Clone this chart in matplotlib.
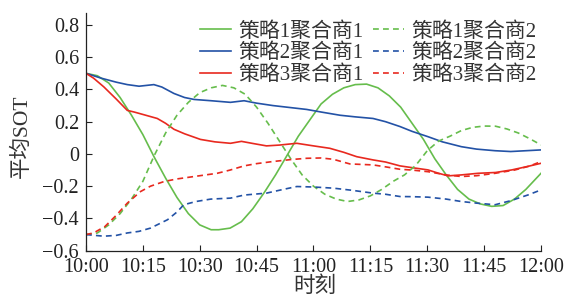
import matplotlib
matplotlib.use("Agg")
import matplotlib.pyplot as plt

plt.rcParams['font.family'] = ['Liberation Serif', 'Noto Sans CJK SC']
plt.rcParams['axes.unicode_minus'] = True

# minutes after 10:00 and average SOT
t_g1 = [0, 3, 6, 9, 12, 15, 18, 21, 24, 27, 30, 33, 35, 38, 41, 44, 47, 50, 53, 56, 59, 62, 65, 68, 71, 74,
        77, 80, 83, 86, 89, 92, 95, 98, 101, 104, 107, 110, 113, 116, 118, 120]
sot_g1 = [0.50, 0.485, 0.44, 0.35, 0.24, 0.12, -0.02, -0.15, -0.27, -0.37, -0.44, -0.47, -0.47, -0.46, -0.42,
          -0.34, -0.24, -0.13, -0.01, 0.11, 0.21, 0.31, 0.37, 0.41, 0.43, 0.433, 0.41, 0.36, 0.29, 0.19, 0.09,
          -0.03, -0.13, -0.22, -0.28, -0.31, -0.325, -0.32, -0.28, -0.22, -0.17, -0.12]

t_g2 = [0, 3, 6, 9, 12, 15, 18, 21, 24, 27, 30, 33, 36, 39, 42, 45, 48, 51, 54, 57, 60, 63, 66, 69, 72, 75,
        78, 81, 84, 87, 90, 93, 96, 99, 102, 105, 108, 111, 114, 117, 120]
sot_g2 = [-0.50, -0.49, -0.44, -0.37, -0.28, -0.17, -0.01, 0.13, 0.24, 0.32, 0.38, 0.41, 0.425, 0.41, 0.37,
          0.29, 0.19, 0.08, -0.03, -0.13, -0.20, -0.25, -0.28, -0.295, -0.285, -0.26, -0.22, -0.17, -0.13,
          -0.07, 0.02, 0.08, 0.11, 0.145, 0.165, 0.173, 0.172, 0.155, 0.13, 0.095, 0.056]

t_b1 = [0, 4, 8, 10.9, 14, 17.9, 20, 23.2, 26, 28.5, 33, 38.1, 41.7, 45, 49.3, 53, 58.2, 62, 67, 71, 75.7,
        79, 82.8, 86, 90.2, 94, 99, 103, 107.9, 112, 116, 120]
sot_b1 = [0.50, 0.47, 0.445, 0.43, 0.42, 0.43, 0.415, 0.375, 0.35, 0.338, 0.33, 0.32, 0.33, 0.315, 0.30, 0.29,
          0.276, 0.26, 0.24, 0.23, 0.22, 0.20, 0.17, 0.14, 0.107, 0.075, 0.045, 0.03, 0.02, 0.015, 0.02, 0.025]

t_b2 = [0, 4.7, 8, 10.9, 14, 17, 21.5, 24, 25.8, 29, 32.9, 38.1, 41.7, 47.6, 52, 55.6, 60, 65.2, 70, 75.7,
        79, 82.8, 86, 90.2, 95, 99, 103, 107.9, 112, 116.6, 120]
sot_b2 = [-0.50, -0.51, -0.505, -0.49, -0.48, -0.46, -0.408, -0.36, -0.315, -0.295, -0.28, -0.274, -0.255,
          -0.243, -0.22, -0.202, -0.205, -0.212, -0.225, -0.243, -0.25, -0.264, -0.265, -0.268, -0.28, -0.295,
          -0.305, -0.315, -0.29, -0.254, -0.223]

t_r1 = [0, 2, 4.7, 8, 10.9, 12.7, 15, 18.8, 21, 23.2, 26, 30.2, 34, 38.1, 41, 44, 47.6, 51, 55.6, 60, 64.3,
        68, 71.4, 75.7, 79, 82.8, 86, 90.2, 93, 95.5, 99, 103.4, 108, 112.3, 116, 120]
sot_r1 = [0.50, 0.47, 0.416, 0.34, 0.27, 0.26, 0.245, 0.22, 0.19, 0.153, 0.125, 0.09, 0.075, 0.066, 0.078,
          0.065, 0.05, 0.055, 0.066, 0.05, 0.035, 0.01, -0.017, -0.037, -0.05, -0.074, -0.085, -0.099, -0.12,
          -0.136, -0.13, -0.12, -0.115, -0.099, -0.08, -0.058]

t_r2 = [0, 2, 5, 8, 10.9, 14.4, 17, 20.6, 24, 28.5, 34.6, 38, 41.7, 45, 49.3, 54, 58.2, 62, 65.2, 69.6, 75.7,
        79, 82.8, 86, 90.2, 95, 99, 103, 107.9, 113, 117, 120]
sot_r2 = [-0.50, -0.49, -0.45, -0.38, -0.305, -0.233, -0.20, -0.171, -0.155, -0.14, -0.12, -0.10, -0.074,
          -0.06, -0.047, -0.035, -0.027, -0.025, -0.033, -0.062, -0.068, -0.08, -0.095, -0.10, -0.11, -0.13,
          -0.14, -0.135, -0.12, -0.10, -0.075, -0.047]

tick_pos = [0, 15, 30, 45, 60, 75, 90, 105, 120]
tick_labels = ['10:00', '10:15', '10:30', '10:45', '11:00', '11:15', '11:30', '11:45', '12:00']

GREEN = '#66bd4c'
BLUE = '#2352a6'
RED = '#e8291f'

fig = plt.figure(figsize=(5.69, 2.97), dpi=100)
ax = fig.add_axes([0.1511, 0.1559, 0.7997, 0.8003])

lw = 1.2
dash = (0, (3.5, 2.5))
ax.plot(t_g1, sot_g1, color=GREEN, lw=lw, label='策略1聚合商1')
ax.plot(t_b1, sot_b1, color=BLUE, lw=lw, label='策略2聚合商1')
ax.plot(t_r1, sot_r1, color=RED, lw=lw, label='策略3聚合商1')
ax.plot(t_g2, sot_g2, color=GREEN, lw=lw, ls=dash, label='策略1聚合商2')
ax.plot(t_b2, sot_b2, color=BLUE, lw=lw, ls=dash, label='策略2聚合商2')
ax.plot(t_r2, sot_r2, color=RED, lw=lw, ls=dash, label='策略3聚合商2')

ax.set_xlim(0, 120)
ax.set_ylim(-0.6, 0.874)
ax.set_xticks(tick_pos)
ax.set_xticklabels(tick_labels)
ax.set_yticks([-0.6, -0.4, -0.2, 0, 0.2, 0.4, 0.6, 0.8])
ax.set_yticklabels(['\u22120.6', '\u22120.4', '\u22120.2', '0', '0.2', '0.4', '0.6', '0.8'])
ax.tick_params(direction='in', length=4, width=0.8, labelsize=14.5, colors='#222222', pad=5)
ax.spines['top'].set_visible(False)
ax.spines['right'].set_visible(False)
for s in ('left', 'bottom'):
    ax.spines[s].set_linewidth(0.9)
    ax.spines[s].set_color('#222222')

ax.set_ylabel('平均SOT', fontsize=15.5, color='#333333')
ax.yaxis.set_label_coords(-0.118, 0.48)
ax.set_xlabel('时刻', fontsize=15.5, color='#333333')
ax.xaxis.set_label_coords(0.503, -0.108)

ax.legend(loc='upper right', bbox_to_anchor=(0.991, 0.962), ncol=2, frameon=False, fontsize=15,
          handlelength=1.5, handletextpad=0.35, columnspacing=0.45, labelspacing=0.1,
          borderaxespad=0.0, borderpad=0.0, labelcolor='#333333')

fig.savefig('out.png', dpi=100)
